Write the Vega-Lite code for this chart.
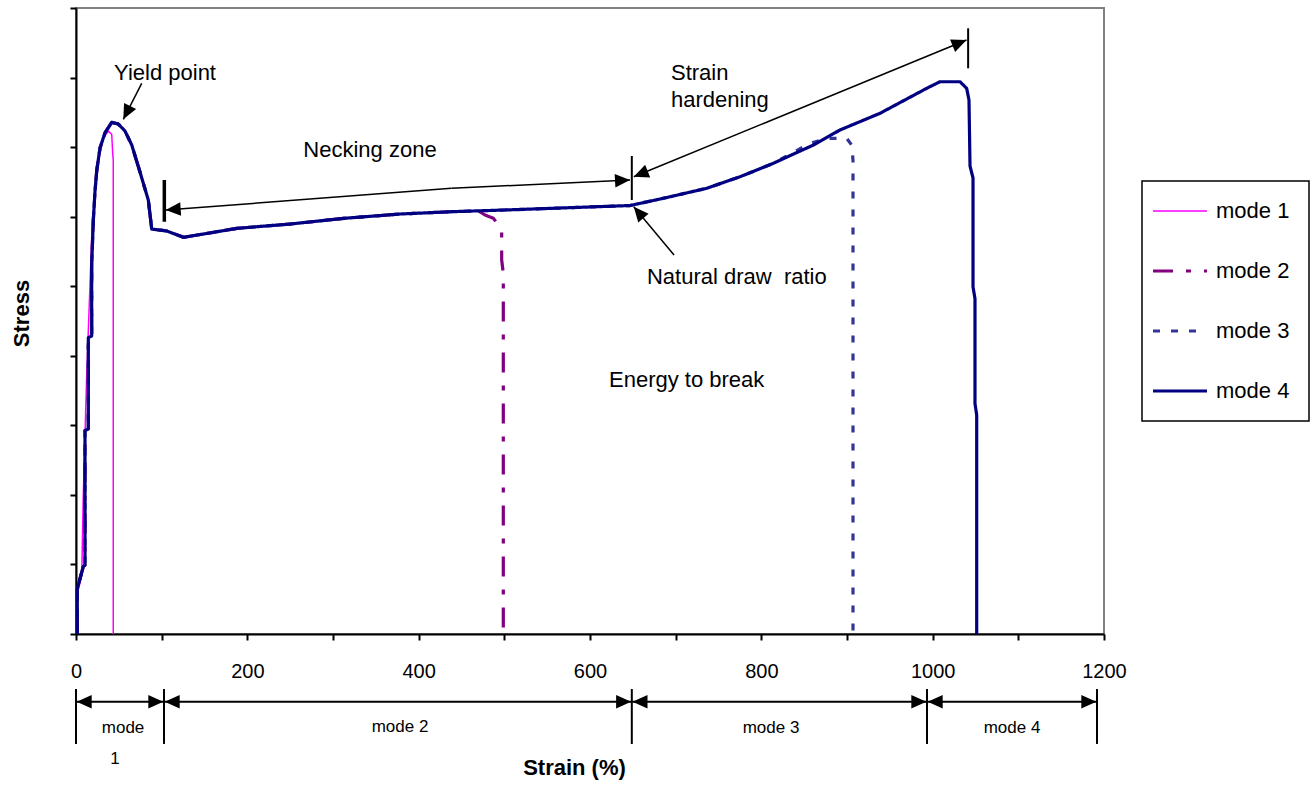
{
  "$schema": "https://vega.github.io/schema/vega-lite/v6.json",
  "width": 1028,
  "height": 626,
  "autosize": {"type": "none"},
  "padding": {"left": 76, "top": 8, "right": 210, "bottom": 152},
  "background": "white",
  "config": {
    "view": {"stroke": "#808080", "strokeWidth": 2},
    "font": "Liberation Sans",
    "axis": {"domainColor": "black", "domainWidth": 2, "tickColor": "black", "tickWidth": 2, "tickSize": 6, "grid": false, "labelFont": "Liberation Sans", "titleFont": "Liberation Sans", "labelColor": "black", "titleColor": "black"},
    "legend": {"strokeWidth": 1.5}
  },
  "datasets": {
    "curves": [
      {"mode": "mode 1", "strain": 1.0, "stress": 0},
      {"mode": "mode 1", "strain": 1.0, "stress": 0.55},
      {"mode": "mode 1", "strain": 6.7, "stress": 0.848},
      {"mode": "mode 1", "strain": 8.5, "stress": 1.984},
      {"mode": "mode 1", "strain": 12.5, "stress": 3.716},
      {"mode": "mode 1", "strain": 18.3, "stress": 5.697},
      {"mode": "mode 1", "strain": 24.2, "stress": 6.685},
      {"mode": "mode 1", "strain": 31.9, "stress": 7.131},
      {"mode": "mode 1", "strain": 37.7, "stress": 7.231},
      {"mode": "mode 1", "strain": 41.7, "stress": 7.182},
      {"mode": "mode 1", "strain": 42.8, "stress": 6.915},
      {"mode": "mode 1", "strain": 43.5, "stress": 6.814},
      {"mode": "mode 1", "strain": 43.5, "stress": 0},

      {"mode": "mode 2", "strain": 1.5, "stress": 0},
      {"mode": "mode 2", "strain": 1.5, "stress": 0.647},
      {"mode": "mode 2", "strain": 4.7, "stress": 0.796},
      {"mode": "mode 2", "strain": 8.5, "stress": 0.969},
      {"mode": "mode 2", "strain": 10.5, "stress": 0.992},
      {"mode": "mode 2", "strain": 10.5, "stress": 2.924},
      {"mode": "mode 2", "strain": 14.4, "stress": 2.949},
      {"mode": "mode 2", "strain": 14.4, "stress": 4.261},
      {"mode": "mode 2", "strain": 18.3, "stress": 4.284},
      {"mode": "mode 2", "strain": 18.3, "stress": 5.305},
      {"mode": "mode 2", "strain": 20.2, "stress": 5.945},
      {"mode": "mode 2", "strain": 22.2, "stress": 6.369},
      {"mode": "mode 2", "strain": 24.2, "stress": 6.662},
      {"mode": "mode 2", "strain": 28.0, "stress": 6.987},
      {"mode": "mode 2", "strain": 33.9, "stress": 7.207},
      {"mode": "mode 2", "strain": 41.7, "stress": 7.355},
      {"mode": "mode 2", "strain": 49.4, "stress": 7.332},
      {"mode": "mode 2", "strain": 57.2, "stress": 7.231},
      {"mode": "mode 2", "strain": 65.0, "stress": 7.033},
      {"mode": "mode 2", "strain": 74.7, "stress": 6.642},
      {"mode": "mode 2", "strain": 84.4, "stress": 6.239},
      {"mode": "mode 2", "strain": 88.4, "stress": 5.822},
      {"mode": "mode 2", "strain": 105.9, "stress": 5.794},
      {"mode": "mode 2", "strain": 125.6, "stress": 5.703},
      {"mode": "mode 2", "strain": 187.9, "stress": 5.832},
      {"mode": "mode 2", "strain": 249.8, "stress": 5.894},
      {"mode": "mode 2", "strain": 312.8, "stress": 5.976},
      {"mode": "mode 2", "strain": 378.2, "stress": 6.038},
      {"mode": "mode 2", "strain": 437.7, "stress": 6.071},
      {"mode": "mode 2", "strain": 470.0, "stress": 6.08},
      {"mode": "mode 2", "strain": 477.4, "stress": 6.024},
      {"mode": "mode 2", "strain": 487.1, "stress": 5.976},
      {"mode": "mode 2", "strain": 494.9, "stress": 5.855},
      {"mode": "mode 2", "strain": 496.9, "stress": 5.784},
      {"mode": "mode 2", "strain": 496.9, "stress": 5.377},
      {"mode": "mode 2", "strain": 498.8, "stress": 5.185},
      {"mode": "mode 2", "strain": 498.8, "stress": 0},

      {"mode": "mode 3", "strain": 1.5, "stress": 0},
      {"mode": "mode 3", "strain": 1.5, "stress": 0.647},
      {"mode": "mode 3", "strain": 4.7, "stress": 0.796},
      {"mode": "mode 3", "strain": 8.5, "stress": 0.969},
      {"mode": "mode 3", "strain": 10.5, "stress": 0.992},
      {"mode": "mode 3", "strain": 10.5, "stress": 2.924},
      {"mode": "mode 3", "strain": 14.4, "stress": 2.949},
      {"mode": "mode 3", "strain": 14.4, "stress": 4.261},
      {"mode": "mode 3", "strain": 18.3, "stress": 4.284},
      {"mode": "mode 3", "strain": 18.3, "stress": 5.305},
      {"mode": "mode 3", "strain": 20.2, "stress": 5.945},
      {"mode": "mode 3", "strain": 22.2, "stress": 6.369},
      {"mode": "mode 3", "strain": 24.2, "stress": 6.662},
      {"mode": "mode 3", "strain": 28.0, "stress": 6.987},
      {"mode": "mode 3", "strain": 33.9, "stress": 7.207},
      {"mode": "mode 3", "strain": 41.7, "stress": 7.355},
      {"mode": "mode 3", "strain": 49.4, "stress": 7.332},
      {"mode": "mode 3", "strain": 57.2, "stress": 7.231},
      {"mode": "mode 3", "strain": 65.0, "stress": 7.033},
      {"mode": "mode 3", "strain": 74.7, "stress": 6.642},
      {"mode": "mode 3", "strain": 84.4, "stress": 6.239},
      {"mode": "mode 3", "strain": 88.4, "stress": 5.822},
      {"mode": "mode 3", "strain": 105.9, "stress": 5.794},
      {"mode": "mode 3", "strain": 125.6, "stress": 5.703},
      {"mode": "mode 3", "strain": 187.9, "stress": 5.832},
      {"mode": "mode 3", "strain": 249.8, "stress": 5.894},
      {"mode": "mode 3", "strain": 312.8, "stress": 5.976},
      {"mode": "mode 3", "strain": 378.2, "stress": 6.038},
      {"mode": "mode 3", "strain": 437.7, "stress": 6.071},
      {"mode": "mode 3", "strain": 500.8, "stress": 6.096},
      {"mode": "mode 3", "strain": 564.9, "stress": 6.124},
      {"mode": "mode 3", "strain": 646.7, "stress": 6.16},
      {"mode": "mode 3", "strain": 685.6, "stress": 6.264},
      {"mode": "mode 3", "strain": 736.2, "stress": 6.408},
      {"mode": "mode 3", "strain": 775.1, "stress": 6.574},
      {"mode": "mode 3", "strain": 814.0, "stress": 6.767},
      {"mode": "mode 3", "strain": 856.8, "stress": 7.054},
      {"mode": "mode 3", "strain": 876.3, "stress": 7.126},
      {"mode": "mode 3", "strain": 899.6, "stress": 7.126},
      {"mode": "mode 3", "strain": 905.5, "stress": 7.03},
      {"mode": "mode 3", "strain": 907.0, "stress": 6.81},
      {"mode": "mode 3", "strain": 907.0, "stress": 0},

      {"mode": "mode 4", "strain": 1.5, "stress": 0},
      {"mode": "mode 4", "strain": 1.5, "stress": 0.647},
      {"mode": "mode 4", "strain": 4.7, "stress": 0.796},
      {"mode": "mode 4", "strain": 8.5, "stress": 0.969},
      {"mode": "mode 4", "strain": 10.5, "stress": 0.992},
      {"mode": "mode 4", "strain": 10.5, "stress": 2.924},
      {"mode": "mode 4", "strain": 14.4, "stress": 2.949},
      {"mode": "mode 4", "strain": 14.4, "stress": 4.261},
      {"mode": "mode 4", "strain": 18.3, "stress": 4.284},
      {"mode": "mode 4", "strain": 18.3, "stress": 5.305},
      {"mode": "mode 4", "strain": 20.2, "stress": 5.945},
      {"mode": "mode 4", "strain": 22.2, "stress": 6.369},
      {"mode": "mode 4", "strain": 24.2, "stress": 6.662},
      {"mode": "mode 4", "strain": 28.0, "stress": 6.987},
      {"mode": "mode 4", "strain": 33.9, "stress": 7.207},
      {"mode": "mode 4", "strain": 41.7, "stress": 7.355},
      {"mode": "mode 4", "strain": 49.4, "stress": 7.332},
      {"mode": "mode 4", "strain": 57.2, "stress": 7.231},
      {"mode": "mode 4", "strain": 65.0, "stress": 7.033},
      {"mode": "mode 4", "strain": 74.7, "stress": 6.642},
      {"mode": "mode 4", "strain": 84.4, "stress": 6.239},
      {"mode": "mode 4", "strain": 88.4, "stress": 5.822},
      {"mode": "mode 4", "strain": 105.9, "stress": 5.794},
      {"mode": "mode 4", "strain": 125.6, "stress": 5.703},
      {"mode": "mode 4", "strain": 187.9, "stress": 5.832},
      {"mode": "mode 4", "strain": 249.8, "stress": 5.894},
      {"mode": "mode 4", "strain": 312.8, "stress": 5.976},
      {"mode": "mode 4", "strain": 378.2, "stress": 6.038},
      {"mode": "mode 4", "strain": 437.7, "stress": 6.071},
      {"mode": "mode 4", "strain": 500.8, "stress": 6.096},
      {"mode": "mode 4", "strain": 564.9, "stress": 6.124},
      {"mode": "mode 4", "strain": 646.7, "stress": 6.16},
      {"mode": "mode 4", "strain": 685.6, "stress": 6.264},
      {"mode": "mode 4", "strain": 736.2, "stress": 6.408},
      {"mode": "mode 4", "strain": 775.1, "stress": 6.574},
      {"mode": "mode 4", "strain": 814.0, "stress": 6.767},
      {"mode": "mode 4", "strain": 860.7, "stress": 7.03},
      {"mode": "mode 4", "strain": 891.8, "stress": 7.246},
      {"mode": "mode 4", "strain": 938.5, "stress": 7.486},
      {"mode": "mode 4", "strain": 993.0, "stress": 7.845},
      {"mode": "mode 4", "strain": 1008.5, "stress": 7.94},
      {"mode": "mode 4", "strain": 1031.9, "stress": 7.94},
      {"mode": "mode 4", "strain": 1039.7, "stress": 7.845},
      {"mode": "mode 4", "strain": 1042.4, "stress": 7.677},
      {"mode": "mode 4", "strain": 1043.6, "stress": 6.728},
      {"mode": "mode 4", "strain": 1047.1, "stress": 6.556},
      {"mode": "mode 4", "strain": 1047.1, "stress": 4.989},
      {"mode": "mode 4", "strain": 1049.4, "stress": 4.823},
      {"mode": "mode 4", "strain": 1049.4, "stress": 3.314},
      {"mode": "mode 4", "strain": 1051.4, "stress": 3.148},
      {"mode": "mode 4", "strain": 1051.4, "stress": 0}
    ],
    "centerNotes": [
      {"x": 103.9, "y": 8.07, "text": "Yield point"},
      {"x": 343.2, "y": 6.958, "text": "Necking zone"}
    ],
    "leftNotes": [
      {"x": 694.5, "y": 8.065, "text": "Strain"},
      {"x": 694.5, "y": 7.677, "text": "hardening"},
      {"x": 666.5, "y": 5.137, "text": "Natural draw \u00a0ratio"},
      {"x": 622.2, "y": 3.652, "text": "Energy to break"}
    ],
    "modeNotes": [
      {"x": 54.9, "y": -1.351, "text": "mode"},
      {"x": 45.5, "y": -1.797, "text": "1"},
      {"x": 378.2, "y": -1.337, "text": "mode 2"},
      {"x": 811.3, "y": -1.351, "text": "mode 3"},
      {"x": 1092.6, "y": -1.351, "text": "mode 4"}
    ],
    "arrowLines": [
      {"x": 76.7, "y": 7.917, "x2": 55.2, "y2": 7.399},
      {"x": 104.7, "y": 6.095, "x2": 438.2, "y2": 6.408},
      {"x": 438.2, "y": 6.408, "x2": 646.7, "y2": 6.527},
      {"x": 651.1, "y": 6.574, "x2": 1039.5, "y2": 8.539},
      {"x": 698.1, "y": 5.449, "x2": 651.1, "y2": 6.143}
    ],
    "bracketLines": [
      {"x": 0, "y": -0.973, "x2": 1191.8, "y2": -0.973},
      {"x": 0, "y": -0.791, "x2": 0, "y2": -1.581},
      {"x": 102.7, "y": -0.791, "x2": 102.7, "y2": -1.581},
      {"x": 648.8, "y": -0.791, "x2": 648.8, "y2": -1.581},
      {"x": 993.4, "y": -0.791, "x2": 993.4, "y2": -1.581},
      {"x": 1191.8, "y": -0.791, "x2": 1191.8, "y2": -1.581},
      {"x": 648.8, "y": 6.239, "x2": 648.8, "y2": 6.872},
      {"x": 1041.4, "y": 8.133, "x2": 1041.4, "y2": 8.708}
    ],
    "thickBars": [
      {"x": 103.1, "y": 5.927, "x2": 103.1, "y2": 6.527}
    ],
    "heads": [
      {"x": 55.2, "y": 7.399, "angle": 207},
      {"x": 104.7, "y": 6.095, "angle": 266},
      {"x": 646.7, "y": 6.527, "angle": 87},
      {"x": 651.1, "y": 6.574, "angle": 248},
      {"x": 1039.5, "y": 8.539, "angle": 68},
      {"x": 651.1, "y": 6.143, "angle": 320},
      {"x": 0.8, "y": -0.973, "angle": 270},
      {"x": 101.9, "y": -0.973, "angle": 90},
      {"x": 103.5, "y": -0.973, "angle": 270},
      {"x": 648.0, "y": -0.973, "angle": 90},
      {"x": 649.6, "y": -0.973, "angle": 270},
      {"x": 992.6, "y": -0.973, "angle": 90},
      {"x": 994.2, "y": -0.973, "angle": 270},
      {"x": 1191.0, "y": -0.973, "angle": 90}
    ]
  },
  "layer": [
    {
      "data": {"name": "curves"},
      "mark": {"type": "line", "strokeCap": "butt", "strokeJoin": "round"},
      "encoding": {
        "x": {
          "field": "strain", "type": "quantitative", "title": "Strain (%)",
          "scale": {"domain": [0, 1200], "nice": false, "zero": false},
          "axis": {
            "values": [0, 100, 200, 300, 400, 500, 600, 700, 800, 900, 1000, 1100, 1200],
            "format": "d",
            "labelExpr": "datum.value % 200 === 0 ? datum.label : ''",
            "labelFontSize": 20, "labelPadding": 21, "labelFlush": false, "labelOverlap": false,
            "title": "Strain (%)", "titleFontSize": 22, "titleFontWeight": "bold",
            "titleX": 498, "titleY": 133, "titleBaseline": "middle"
          }
        },
        "y": {
          "field": "stress", "type": "quantitative", "title": "Stress",
          "scale": {"domain": [0, 9], "nice": false, "zero": false},
          "axis": {
            "values": [0, 1, 2, 3, 4, 5, 6, 7, 8, 9],
            "labels": false,
            "title": "Stress", "titleFontSize": 22, "titleFontWeight": "bold",
            "titleX": -55, "titleY": 305, "titleBaseline": "middle"
          }
        },
        "color": {
          "field": "mode", "type": "nominal",
          "scale": {"domain": ["mode 1", "mode 2", "mode 3", "mode 4"], "range": ["#FF00FF", "#800080", "#333399", "#000080"]},
          "legend": {
            "title": null, "orient": "none", "legendX": 1066, "legendY": 173,
            "padding": 19, "rowPadding": 38, "strokeColor": "black", "fillColor": "white",
            "symbolType": "stroke", "symbolSize": 2916, "symbolStrokeWidth": 3, "symbolOffset": 8,
            "labelFontSize": 22, "labelOffset": 25, "labelColor": "black", "labelFont": "Liberation Sans",
            "encode": {"symbols": {"update": {"strokeWidth": {"signal": "datum.value === 'mode 1' ? 1.5 : 3"}}}}
          }
        },
        "strokeDash": {
          "field": "mode", "type": "nominal",
          "scale": {"domain": ["mode 1", "mode 2", "mode 3", "mode 4"], "range": [[1, 0], [20, 13, 5, 13], [7, 11], [1, 0]]},
          "legend": {
            "title": null, "orient": "none", "legendX": 1066, "legendY": 173,
            "padding": 19, "rowPadding": 38, "strokeColor": "black", "fillColor": "white",
            "symbolType": "stroke", "symbolSize": 2916, "symbolStrokeWidth": 3, "symbolOffset": 8,
            "labelFontSize": 22, "labelOffset": 25, "labelColor": "black", "labelFont": "Liberation Sans",
            "encode": {"symbols": {"update": {"strokeWidth": {"signal": "datum.value === 'mode 1' ? 1.5 : 3"}}}}
          }
        },
        "strokeWidth": {"condition": {"test": "datum.mode === 'mode 1'", "value": 1.5}, "value": 3.2},
        "order": {"value": null}
      }
    },
    {
      "data": {"name": "arrowLines"},
      "mark": {"type": "rule", "color": "black", "strokeWidth": 1.5},
      "encoding": {
        "x": {"field": "x", "type": "quantitative", "title": "Strain (%)"},
        "y": {"field": "y", "type": "quantitative", "title": "Stress"},
        "x2": {"field": "x2"},
        "y2": {"field": "y2"}
      }
    },
    {
      "data": {"name": "bracketLines"},
      "mark": {"type": "rule", "color": "black", "strokeWidth": 2},
      "encoding": {
        "x": {"field": "x", "type": "quantitative", "title": "Strain (%)"},
        "y": {"field": "y", "type": "quantitative", "title": "Stress"},
        "x2": {"field": "x2"},
        "y2": {"field": "y2"}
      }
    },
    {
      "data": {"name": "thickBars"},
      "mark": {"type": "rule", "color": "black", "strokeWidth": 3.5},
      "encoding": {
        "x": {"field": "x", "type": "quantitative", "title": "Strain (%)"},
        "y": {"field": "y", "type": "quantitative", "title": "Stress"},
        "x2": {"field": "x2"},
        "y2": {"field": "y2"}
      }
    },
    {
      "data": {"name": "heads"},
      "mark": {"type": "point", "shape": "M0,0L-0.45,1L0.45,1Z", "filled": true, "color": "black", "opacity": 1, "size": 900, "strokeWidth": 0},
      "encoding": {
        "x": {"field": "x", "type": "quantitative", "title": "Strain (%)"},
        "y": {"field": "y", "type": "quantitative", "title": "Stress"},
        "angle": {"field": "angle", "type": "quantitative", "scale": null}
      }
    },
    {
      "data": {"name": "centerNotes"},
      "mark": {"type": "text", "fontSize": 22, "align": "center", "baseline": "middle", "color": "black", "font": "Liberation Sans"},
      "encoding": {
        "x": {"field": "x", "type": "quantitative", "title": "Strain (%)"},
        "y": {"field": "y", "type": "quantitative", "title": "Stress"},
        "text": {"field": "text"}
      }
    },
    {
      "data": {"name": "leftNotes"},
      "mark": {"type": "text", "fontSize": 22, "align": "left", "baseline": "middle", "color": "black", "font": "Liberation Sans"},
      "encoding": {
        "x": {"field": "x", "type": "quantitative", "title": "Strain (%)"},
        "y": {"field": "y", "type": "quantitative", "title": "Stress"},
        "text": {"field": "text"}
      }
    },
    {
      "data": {"name": "modeNotes"},
      "mark": {"type": "text", "fontSize": 17, "align": "center", "baseline": "middle", "color": "black", "font": "Liberation Sans"},
      "encoding": {
        "x": {"field": "x", "type": "quantitative", "title": "Strain (%)"},
        "y": {"field": "y", "type": "quantitative", "title": "Stress"},
        "text": {"field": "text"}
      }
    }
  ]
}
